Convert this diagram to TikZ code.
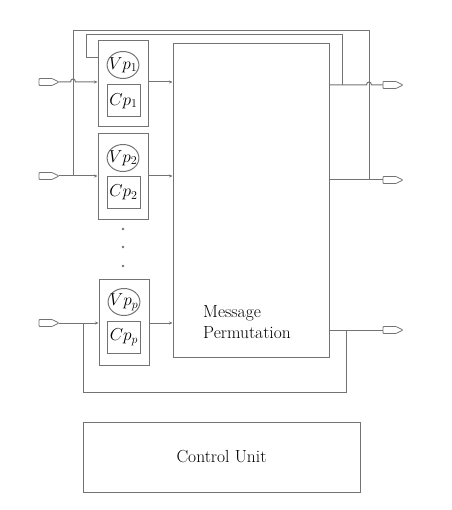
\documentclass[tikz,border=0pt]{standalone}
\usetikzlibrary{arrows.meta,shapes.geometric}
\definecolor{ln}{gray}{0.45}
\begin{document}
\begin{tikzpicture}[x=1pt,y=-1pt,
  line/.style={draw=ln,line width=1pt},
  arr/.style={line,-{Stealth[length=3.5pt,width=3pt]}},
  procbox/.style={line,minimum width=50pt,minimum height=86pt,inner sep=0pt},
  vnode/.style={line,ellipse,minimum width=31pt,minimum height=27pt,inner sep=-3pt,font=\fontsize{16.5}{20}\selectfont},
  cnode/.style={line,minimum width=33pt,minimum height=32pt,inner sep=0pt,font=\fontsize{17}{20}\selectfont},
  dotnode/.style={circle,fill=ln,inner sep=0pt,minimum size=2.8pt},
  txt/.style={font=\fontsize{17.5}{21}\selectfont},
  plug/.pic={\draw[ln,line width=0.8pt,rounded corners=0.8pt] (0,-3.5) -- (13,-3.5) -- (20,0) -- (13,3.5) -- (0,3.5) -- cycle;
             \coordinate (-tip) at (20,0); \coordinate (-base) at (0,0);}
]
\useasboundingbox (0,0) rectangle (451,510);

% processor boxes
\node[procbox] (b1) at (123,84) {};
\node[procbox] (b2) at (123,176.5) {};
\node[procbox] (bp) at (124,322) {};
\node[vnode] (v1) at (123,65) {$Vp_1$};
\node[cnode] (c1) at (123.5,101) {$Cp_1$};
\node[vnode] (v2) at (123,158) {$Vp_2$};
\node[cnode] (c2) at (123.5,192.5) {$Cp_2$};
\node[vnode] (vp) at (124,302) {$Vp_p$};
\node[cnode] (cp) at (124,337.5) {$Cp_p$};

% dots
\node[dotnode] (d1) at (123,229) {};
\node[dotnode] (d2) at (123,247) {};
\node[dotnode] (d3) at (123,266) {};

% permutation
\node[line,minimum width=156pt,minimum height=313pt,inner sep=0pt] (perm) at (251,200.5) {};
\node[txt,align=left,anchor=west,inner sep=0pt] (permtext) at (203,322) {Message\\Permutation};

% control unit
\node[line,minimum width=277pt,minimum height=70pt,txt] (cu) at (221.5,457) {Control Unit};

% plugs
\pic (i1) at (39,82) {plug};
\pic (i2) at (39,176) {plug};
\pic (ip) at (39,323) {plug};
\pic (o1) at (383,85) {plug};
\pic (o2) at (383,180) {plug};
\pic (op) at (383,330) {plug};

% hop coordinates
\coordinate (h1) at (73,82);
\coordinate (h2) at (369,85);

% inputs
\draw[arr] (i1-tip) -- ([xshift=-2.5pt]h1) .. controls ([xshift=-2.5pt,yshift=4pt]h1) and ([xshift=2.5pt,yshift=4pt]h1) .. ([xshift=2.5pt]h1) -- (b1.west |- i1-tip);
\draw[arr] (i2-tip) -- (b2.west |- i2-tip);
\draw[arr] (ip-tip) -- (bp.west |- ip-tip);

% boxes to permutation
\draw[arr] (b1.east |- i1-tip) -- (perm.west |- i1-tip);
\draw[arr] (b2.east |- i2-tip) -- (perm.west |- i2-tip);
\draw[arr] (bp.east |- ip-tip) -- (perm.west |- ip-tip);

% outputs
\draw[line] (perm.east |- o1-base) -- ([xshift=-2.5pt]h2) .. controls ([xshift=-2.5pt,yshift=4pt]h2) and ([xshift=2.5pt,yshift=4pt]h2) .. ([xshift=2.5pt]h2) -- (o1-base);
\draw[line] (perm.east |- o2-base) -- (o2-base);
\draw[line] (perm.east |- op-base) -- (op-base);

% feedback loops
\coordinate (l1a) at (342,85);
\coordinate (l1b) at (342,35);
\coordinate (l1c) at (86,35);
\coordinate (l1d) at (86,58);
\draw[line] (l1a) -- (l1b) -- (l1c) -- (l1d) -- (b1.west |- l1d);

\coordinate (l2a) at (369,180);
\coordinate (l2b) at (369,31);
\coordinate (l2c) at (73,31);
\coordinate (l2d) at (73,176);
\draw[line] (l2a) -- (l2b) -- (l2c) -- (l2d);

\coordinate (l3a) at (346,330);
\coordinate (l3b) at (346,392);
\coordinate (l3c) at (83,392);
\coordinate (l3d) at (83,323);
\draw[line] (l3a) -- (l3b) -- (l3c) -- (l3d);
\end{tikzpicture}
\end{document}
